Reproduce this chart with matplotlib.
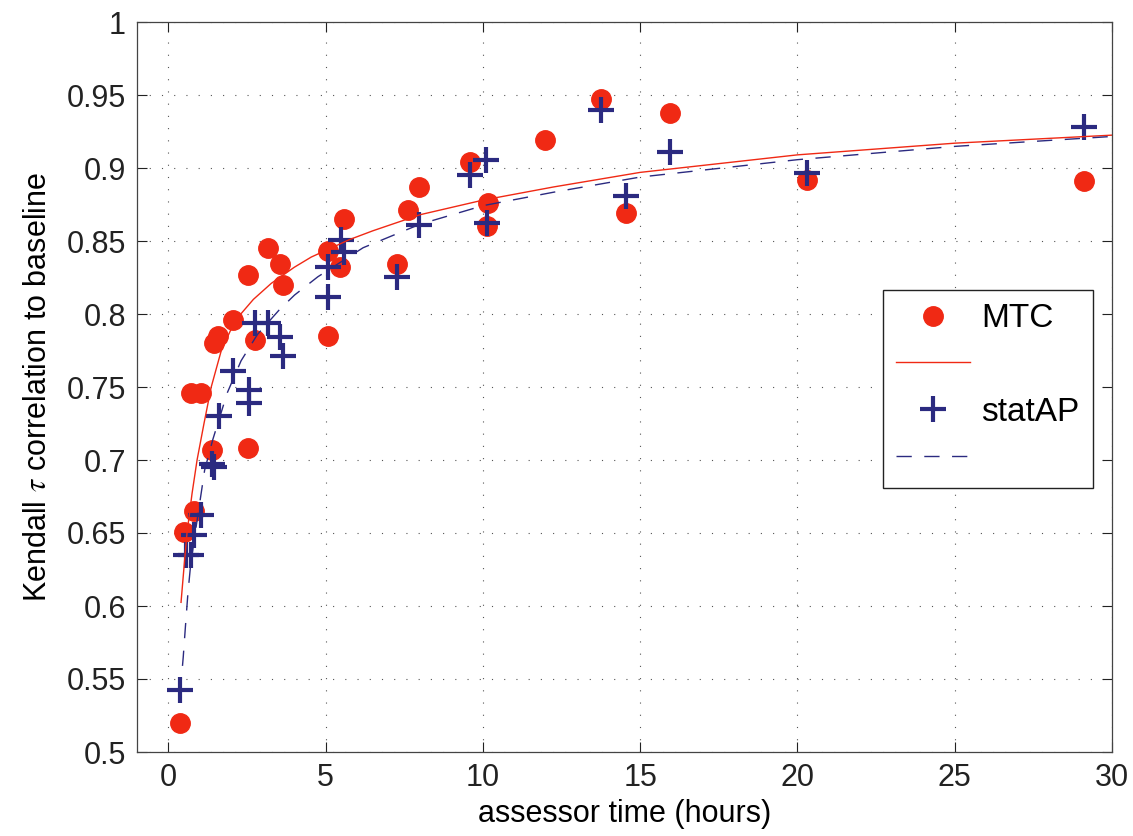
# Kendall tau vs assessor time, MTC vs statAP
import matplotlib
matplotlib.use("Agg")
import matplotlib.pyplot as plt

# Scatter data
mtc_x = [0.36, 0.50, 0.71, 0.81, 1.02, 1.39, 1.45, 1.56, 2.04, 2.53, 2.54, 2.75, 3.17,
         3.56, 3.64, 5.06, 5.08, 5.45, 5.57, 7.27, 7.63, 7.96, 9.60, 10.13, 10.16,
         11.96, 13.74, 14.55, 15.94, 20.31, 29.11]
mtc_y = [0.520, 0.651, 0.746, 0.665, 0.746, 0.707, 0.780, 0.785, 0.796, 0.708, 0.827,
         0.782, 0.845, 0.834, 0.820, 0.785, 0.843, 0.832, 0.865, 0.834, 0.871, 0.887,
         0.904, 0.8605, 0.876, 0.919, 0.947, 0.869, 0.938, 0.892, 0.891]

statap_x = [0.36, 0.56, 0.71, 0.81, 1.03, 1.38, 1.45, 1.60, 2.04, 2.55, 2.55, 2.74,
            3.18, 3.54, 3.63, 5.06, 5.08, 5.50, 5.58, 7.27, 7.97, 9.60, 10.11, 10.13,
            13.74, 14.56, 15.94, 20.31, 29.11]
statap_y = [0.5425, 0.635, 0.635, 0.6486, 0.6623, 0.697, 0.695, 0.7304, 0.7612, 0.748,
            0.7388, 0.794, 0.794, 0.7845, 0.7715, 0.8324, 0.8119, 0.8507, 0.8424, 0.8256,
            0.861, 0.895, 0.9057, 0.8625, 0.940, 0.881, 0.911, 0.8968, 0.9284]

# Fitted curves (sampled off the figure)
mtc_fit_x = [0.40, 0.50, 0.59, 0.75, 0.91, 1.13, 1.36, 1.68, 2.00, 2.30, 2.70, 3.27,
             4.00, 4.54, 5.76, 6.50, 8.00, 10.0, 12.24, 15.0, 20.0, 25.0, 30.0]
mtc_fit_y = [0.6025, 0.628, 0.650, 0.677, 0.700, 0.725, 0.750, 0.775, 0.790, 0.800,
             0.810, 0.821, 0.832, 0.839, 0.851, 0.857, 0.868, 0.878, 0.887, 0.897,
             0.909, 0.917, 0.9225]

statap_fit_x = [0.38, 0.41, 0.47, 0.54, 0.62, 0.70, 0.85, 0.99, 1.15, 1.41, 1.87, 2.31,
                2.83, 3.53, 4.01, 4.75, 6.19, 8.00, 10.0, 12.24, 15.0, 20.0, 25.0, 30.0]
statap_fit_y = [0.540, 0.550, 0.565, 0.586, 0.609, 0.627, 0.650, 0.670, 0.693, 0.714,
                0.746, 0.768, 0.786, 0.803, 0.813, 0.8255, 0.8454, 0.8615, 0.8742,
                0.8834, 0.8938, 0.9057, 0.9148, 0.9216]

x_ticks = [0, 5, 10, 15, 20, 25, 30]
y_ticks = [0.5, 0.55, 0.6, 0.65, 0.7, 0.75, 0.8, 0.85, 0.9, 0.95, 1]
y_tick_labels = ["0.5", "0.55", "0.6", "0.65", "0.7", "0.75", "0.8", "0.85", "0.9", "0.95", "1"]

red = "#f02914"
navy = "#2b2a80"

plt.rcParams["font.family"] = ["Liberation Sans", "DejaVu Sans"]
plt.rcParams["mathtext.fontset"] = "stix"

fig = plt.figure(figsize=(11.33, 8.36), dpi=100)
ax = fig.add_axes([137 / 1133, 1 - 752 / 836, (1112 - 137) / 1133, (752 - 22) / 836])

# Scatter markers
h_mtc, = ax.plot(mtc_x, mtc_y, linestyle="none", marker="o", markersize=14,
                 markerfacecolor=red, markeredgecolor=red)
h_stat, = ax.plot(statap_x, statap_y, linestyle="none", marker="+", markersize=19,
                  markeredgewidth=3, color=navy)

# Fit lines
h_mtc_fit, = ax.plot(mtc_fit_x, mtc_fit_y, color=red, linewidth=1.0)
h_stat_fit, = ax.plot(statap_fit_x, statap_fit_y, color=navy, linewidth=1.0,
                      dashes=(11, 9))

# Axes limits and ticks
ax.set_xlim(-1, 30)
ax.set_ylim(0.5, 1)
ax.set_xticks(x_ticks)
ax.set_yticks(y_ticks)
ax.set_yticklabels(y_tick_labels)
ax.tick_params(direction="in", length=7, width=0.8, top=True, right=True,
               labelsize=22, pad=8, colors="#222222")

# MATLAB-ish dotted grid
ax.grid(True, color="#555555", linestyle=(0, (1, 10)), linewidth=0.8)
for s in ax.spines.values():
    s.set_color("#444444")
    s.set_linewidth(0.9)

ax.set_xlabel("assessor time (hours)", fontsize=22, labelpad=4)
ax.set_ylabel("Kendall $\\tau$ correlation to baseline", fontsize=22, labelpad=10)

# Legend
leg = ax.legend([h_mtc, h_mtc_fit, h_stat, h_stat_fit], ["MTC", "", "statAP", ""],
                loc="upper left", bbox_to_anchor=(883 / 1133, 1 - 290 / 836),
                bbox_transform=fig.transFigure, fontsize=24, frameon=True,
                fancybox=False, edgecolor="#222222", framealpha=1,
                handlelength=2.2, handletextpad=0.35, labelspacing=0.47,
                borderpad=0.4, borderaxespad=0)
leg.get_frame().set_linewidth(1.0)

fig.savefig("out.png", dpi=100)
